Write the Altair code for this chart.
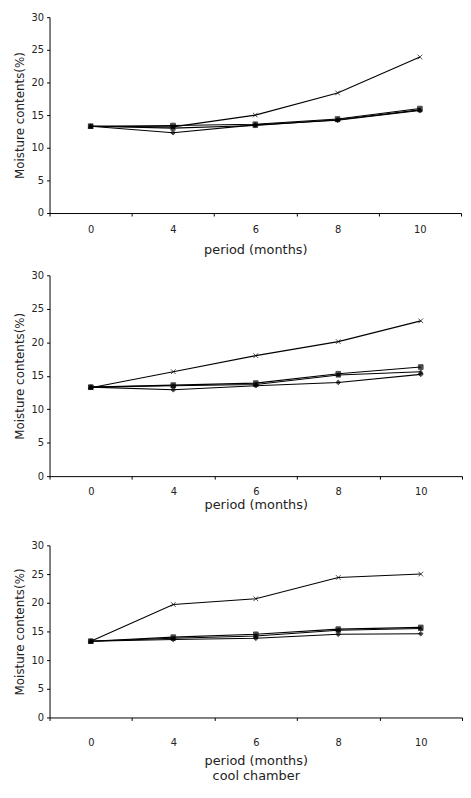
import altair as alt
import pandas as pd

months = ["0", "4", "6", "8", "10"]
series = ["A", "B", "C", "D"]

# panel 1
p1_A = [13.3, 13.4, 13.6, 14.4, 16.0]
p1_B = [13.3, 12.3, 13.5, 14.2, 15.7]
p1_C = [13.3, 13.0, 13.4, 14.3, 15.8]
p1_D = [13.3, 13.2, 15.0, 18.4, 23.9]
# panel 2
p2_A = [13.3, 13.6, 13.9, 15.3, 16.3]
p2_B = [13.3, 12.9, 13.5, 14.0, 15.2]
p2_C = [13.3, 13.5, 13.7, 15.1, 15.6]
p2_D = [13.2, 15.6, 18.0, 20.1, 23.2]
# panel 3 (cool chamber)
p3_A = [13.3, 14.0, 14.5, 15.4, 15.7]
p3_B = [13.3, 13.6, 13.8, 14.5, 14.6]
p3_C = [13.3, 13.8, 14.2, 15.2, 15.5]
p3_D = [13.3, 19.7, 20.7, 24.4, 25.0]

y_ticks = [0, 5, 10, 15, 20, 25, 30]
FONT = "DejaVu Sans"
XPATH = "M-1,-1L1,1M-1,1L1,-1"


def frame(vals):
    rows = []
    for s, v in zip(series, vals):
        for m, y in zip(months, v):
            rows.append({"month": m, "series": s, "value": y})
    return pd.DataFrame(rows)


def panel(vals, width, height, x_title, lab_pad, title_pad):
    df = frame(vals)
    x = alt.X("month:N", sort=months,
              scale=alt.Scale(type="band", paddingInner=0, paddingOuter=0),
              axis=alt.Axis(title=x_title, labelAngle=0, tickBand="extent",
                            labelPadding=lab_pad, titlePadding=title_pad,
                            titleFontSize=13, titleFontWeight="normal",
                            tickSize=3))
    y = alt.Y("value:Q", scale=alt.Scale(domain=[0, 30], nice=False),
              axis=alt.Axis(title="Moisture contents(%)", values=y_ticks,
                            titlePadding=5, labelPadding=3, tickSize=3,
                            titleFontWeight="normal", titleFontSize=12))
    base = alt.Chart(df).encode(x=x, y=y, detail="series:N")
    line = base.mark_line(color="black", strokeWidth=1.1)
    pts = base.mark_point(filled=True, color="black", stroke="black",
                          strokeWidth=1, size=22).encode(
        shape=alt.Shape("series:N", legend=None,
                        scale=alt.Scale(domain=series,
                                        range=["square", "diamond", "triangle-up", XPATH])))
    return alt.layer(line, pts).properties(width=width, height=height)


c1 = panel([p1_A, p1_B, p1_C, p1_D], 416, 198, "period (months)", 9, 9)
c2 = panel([p2_A, p2_B, p2_C, p2_D], 417, 203, ["period (months)", " "], 8, 2)
c3 = panel([p3_A, p3_B, p3_C, p3_D], 417, 174, ["period (months)", "cool chamber"], 17, 8)

chart = alt.vconcat(c1, c2, c3, spacing=14).properties(
    padding={"top": 0, "left": 5, "right": 0, "bottom": 0}
).configure_view(stroke=None).configure_axis(
    grid=False, domainColor="black", tickColor="black", labelColor="#222",
    titleColor="#222", labelFont=FONT, titleFont=FONT, labelFontSize=10,
    domainWidth=1
)

chart.save("out.html", embed_options={"renderer": "svg", "actions": False})
